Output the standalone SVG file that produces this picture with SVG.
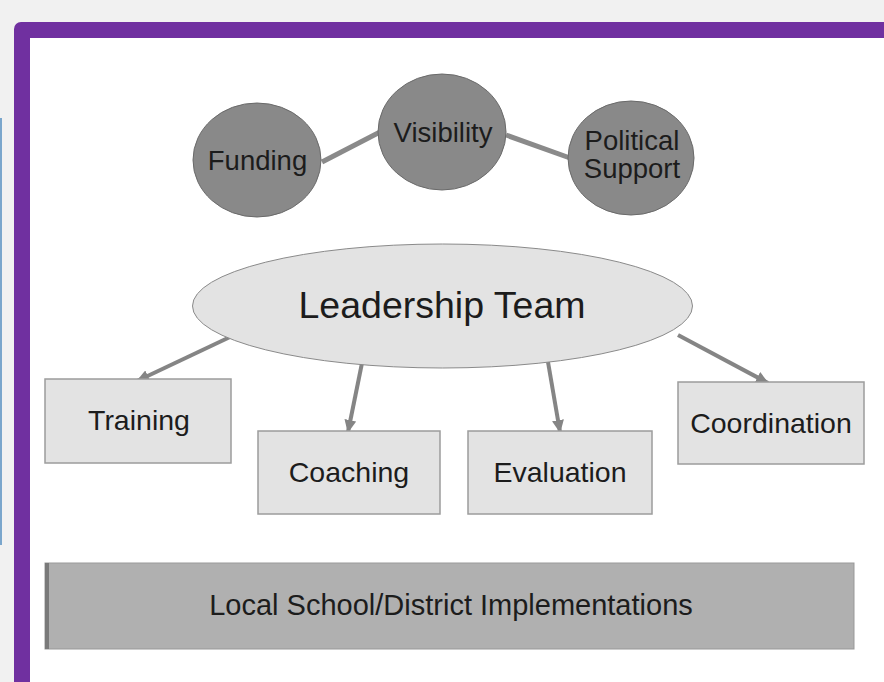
<svg xmlns="http://www.w3.org/2000/svg" width="884" height="682" viewBox="0 0 884 682">
<defs>
<style>
.t{font-family:"Liberation Sans",Arial,sans-serif;fill:#1c1c1c;text-anchor:middle}
.circ{fill:#898989;stroke:#6a6a6a;stroke-width:1}
.box{fill:#e3e3e3;stroke:#9c9c9c;stroke-width:1.5}
.link{stroke:#8a8a8a;stroke-width:5;fill:none}
.arr{stroke:#858585;stroke-width:4;fill:none;marker-end:url(#ah)}
</style>
<marker id="ah" markerUnits="userSpaceOnUse" markerWidth="14" markerHeight="12" refX="12" refY="6" orient="auto">
<path d="M0,0 L13,6 L0,12 Z" fill="#858585"/>
</marker>
</defs>
<rect x="0" y="0" width="884" height="682" fill="#f1f1f1"/>
<rect x="0" y="118" width="2" height="427" fill="#7aa6cc"/>
<rect x="14" y="22" width="900" height="700" rx="7" fill="#7030a0"/>
<rect x="30" y="38" width="880" height="680" fill="#ffffff"/>
<g id="connectors">
<line class="link" x1="322" y1="162" x2="380" y2="132"/>
<line class="link" x1="506" y1="135" x2="570" y2="158"/>
<line class="arr" x1="230" y1="337" x2="137" y2="381"/>
<line class="arr" x1="362" y1="363" x2="348" y2="432"/>
<line class="arr" x1="548" y1="362" x2="560" y2="432"/>
<line class="arr" x1="678" y1="335" x2="768" y2="383"/>
</g>
<g id="funding">
<ellipse class="circ" cx="257" cy="160" rx="64" ry="57"/>
<text class="t" x="257.5" y="170" font-size="27.5">Funding</text>
</g>
<g id="visibility">
<ellipse class="circ" cx="442" cy="132" rx="64" ry="58"/>
<text class="t" x="443" y="142" font-size="27.5">Visibility</text>
</g>
<g id="political">
<ellipse class="circ" cx="631" cy="158" rx="63" ry="57"/>
<text class="t" x="632" y="150" font-size="27.5">Political</text>
<text class="t" x="632" y="178" font-size="27.5">Support</text>
</g>
<g id="leadership">
<ellipse cx="442.5" cy="306" rx="250" ry="62" fill="#e3e3e3" stroke="#8a8a8a" stroke-width="1"/>
<text class="t" x="442" y="318" font-size="37.5">Leadership Team</text>
</g>
<g id="training">
<rect class="box" x="45" y="379" width="186" height="84"/>
<text class="t" x="139" y="430" font-size="28.5">Training</text>
</g>
<g id="coaching">
<rect class="box" x="258" y="431" width="182" height="83"/>
<text class="t" x="349" y="482" font-size="28.5">Coaching</text>
</g>
<g id="evaluation">
<rect class="box" x="468" y="431" width="184" height="83"/>
<text class="t" x="560" y="482" font-size="28.5">Evaluation</text>
</g>
<g id="coordination">
<rect class="box" x="678" y="382" width="186" height="82"/>
<text class="t" x="771" y="433" font-size="28.5">Coordination</text>
</g>
<g id="local">
<rect x="45" y="563" width="809" height="86" fill="#b0b0b0" stroke="#999999" stroke-width="1"/>
<rect x="45" y="563" width="4" height="86" fill="#7a7a7a"/>
<text class="t" x="451" y="615" font-size="29">Local School/District Implementations</text>
</g>
</svg>
